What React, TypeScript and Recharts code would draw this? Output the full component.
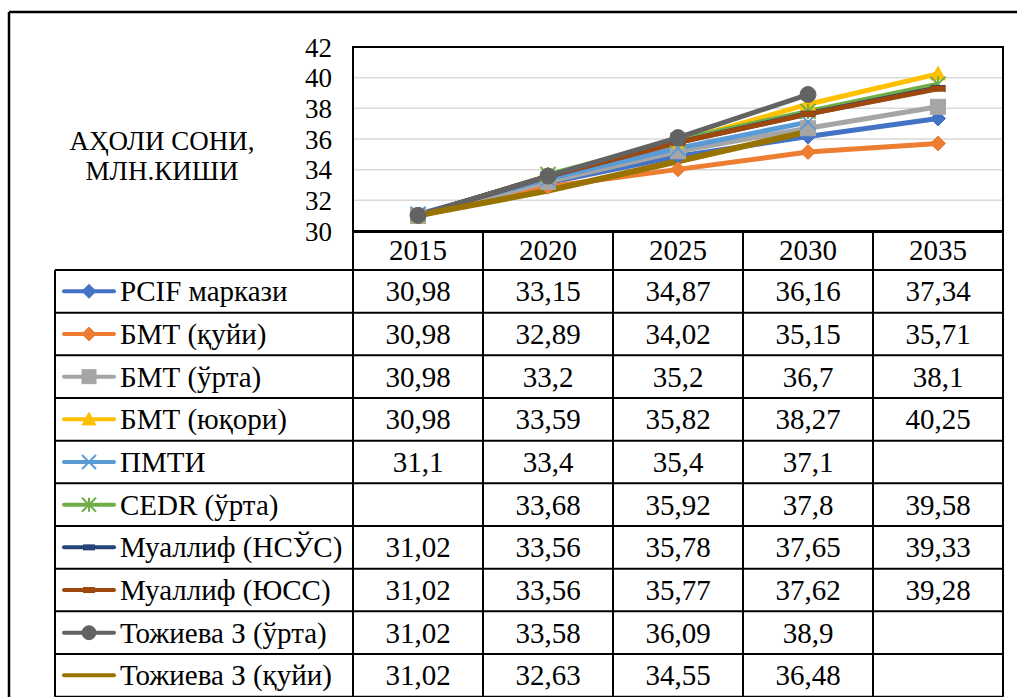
import React from 'react';
import { LineChart, Line, XAxis, YAxis, CartesianGrid } from 'recharts';

const years = ['2015', '2020', '2025', '2030', '2035'];
const seriesNames = [
  'PCIF маркази',
  'БМТ (қуйи)',
  'БМТ (ўрта)',
  'БМТ (юқори)',
  'ПМТИ',
  'CEDR (ўрта)',
  'Муаллиф (НСЎС)',
  'Муаллиф (ЮСС)',
  'Тожиева З (ўрта)',
  'Тожиева З (қуйи)',
];
const pcif = [30.98, 33.15, 34.87, 36.16, 37.34];
const bmtLow = [30.98, 32.89, 34.02, 35.15, 35.71];
const bmtMid = [30.98, 33.2, 35.2, 36.7, 38.1];
const bmtHigh = [30.98, 33.59, 35.82, 38.27, 40.25];
const pmti = [31.1, 33.4, 35.4, 37.1, null];
const cedr = [null, 33.68, 35.92, 37.8, 39.58];
const authorNsus = [31.02, 33.56, 35.78, 37.65, 39.33];
const authorYuss = [31.02, 33.56, 35.77, 37.62, 39.28];
const tozhievaMid = [31.02, 33.58, 36.09, 38.9, null];
const tozhievaLow = [31.02, 32.63, 34.55, 36.48, null];
const seriesValues: (number | null)[][] = [
  pcif, bmtLow, bmtMid, bmtHigh, pmti, cedr, authorNsus, authorYuss, tozhievaMid, tozhievaLow,
];
const colors = ['#4472C4', '#ED7D31', '#A5A5A5', '#FFC000', '#5B9BD5', '#70AD47', '#264478', '#9E480E', '#636363', '#997300'];
const markers = ['diamond', 'diamond', 'square', 'triangle', 'x', 'star', 'dash', 'dash', 'circle', 'none'];
const yTicks = [30, 32, 34, 36, 38, 40, 42];
const yTitle = ['АҲОЛИ СОНИ,', 'МЛН.КИШИ'];

const data = years.map((y, i) => {
  const row: any = { year: y };
  seriesValues.forEach((vals, s) => {
    row['s' + s] = vals[i];
  });
  return row;
});

const FONT = 'Liberation Serif';
const FS = 29;

function Marker({ kind, cx, cy, color, s }: { kind: string; cx: number; cy: number; color: string; s: number }) {
  switch (kind) {
    case 'diamond':
      return <polygon points={`${cx},${cy - s} ${cx + s},${cy} ${cx},${cy + s} ${cx - s},${cy}`} fill={color} stroke={color} strokeWidth={1} />;
    case 'square':
      return <rect x={cx - s} y={cy - s} width={2 * s} height={2 * s} fill={color} stroke={color} strokeWidth={1} />;
    case 'triangle':
      return <polygon points={`${cx},${cy - s} ${cx + s},${cy + s * 0.8} ${cx - s},${cy + s * 0.8}`} fill={color} stroke={color} strokeWidth={1} />;
    case 'x':
      return (
        <g stroke={color} strokeWidth={2}>
          <line x1={cx - s} y1={cy - s} x2={cx + s} y2={cy + s} />
          <line x1={cx - s} y1={cy + s} x2={cx + s} y2={cy - s} />
        </g>
      );
    case 'star':
      return (
        <g stroke={color} strokeWidth={2}>
          <line x1={cx - s} y1={cy - s} x2={cx + s} y2={cy + s} />
          <line x1={cx - s} y1={cy + s} x2={cx + s} y2={cy - s} />
          <line x1={cx} y1={cy - s} x2={cx} y2={cy + s} />
        </g>
      );
    case 'dash':
      return <rect x={cx - s} y={cy - 3} width={2 * s} height={6} fill={color} />;
    case 'circle':
      return <circle cx={cx} cy={cy} r={s} fill={color} stroke={color} strokeWidth={1} />;
    default:
      return null;
  }
}

const fmt = (v: number | null) => (v == null ? '' : String(v).replace('.', ','));

// layout constants
const PLOT_L = 353;
const PLOT_R = 1003;
const PLOT_T = 47;
const PLOT_B = 231;
const TABLE_L = 55;
const HEAD_T = 232;
const ROW0 = 270;
const ROW_H = 42.67;
const COL_W = 130;

export default function App() {
  const nRows = seriesNames.length;
  const tableBottom = ROW0 + nRows * ROW_H;
  return (
    <div style={{ position: 'absolute', left: 0, top: 0, width: 1017, height: 697, background: '#fff', overflow: 'hidden' }}>
      <LineChart
        width={1017}
        height={697}
        data={data}
        margin={{ top: PLOT_T, right: 1017 - PLOT_R, bottom: 697 - PLOT_B, left: 0 }}
      >
        <CartesianGrid vertical={false} stroke="#D9D9D9" strokeWidth={1.5} />
        <XAxis dataKey="year" hide height={0} padding={{ left: COL_W / 2, right: COL_W / 2 }} />
        <YAxis
          width={PLOT_L}
          domain={[30, 42]}
          ticks={yTicks}
          interval={0}
          axisLine={false}
          tickLine={false}
          tickMargin={15}
          tick={{ fill: '#000', fontSize: 27, fontFamily: FONT }}
        />
        {seriesValues.map((_, s) => (
          <Line
            key={s}
            dataKey={'s' + s}
            name={seriesNames[s]}
            stroke={colors[s]}
            strokeWidth={s === 9 ? 6 : 5}
            strokeLinejoin="round"
            isAnimationActive={false}
            connectNulls={false}
            activeDot={false}
            dot={(p: any) => {
              const k = 'd' + s + '-' + p.index;
              if (p.cx == null || p.cy == null || p.payload['s' + s] == null) return <g key={k} />;
              return (
                <g key={k}>
                  <Marker kind={markers[s]} cx={p.cx} cy={p.cy} color={colors[s]} s={markers[s] === 'circle' ? 8 : 7.5} />
                </g>
              );
            }}
          />
        ))}
      </LineChart>
      <svg
        width={1017}
        height={697}
        style={{ position: 'absolute', left: 0, top: 0, pointerEvents: 'none' }}
      >
        {/* outer chart border */}
        <line x1={9} y1={12} x2={1017} y2={12} stroke="#000" strokeWidth={2.5} />
        <line x1={9} y1={12} x2={9} y2={697} stroke="#000" strokeWidth={2.5} />
        {/* plot area border */}
        <rect x={PLOT_L} y={PLOT_T} width={PLOT_R - PLOT_L} height={PLOT_B - PLOT_T} fill="none" stroke="#000" strokeWidth={2} />
        {/* y title */}
        {yTitle.map((t, i) => (
          <text key={t} x={162} y={150 + i * 30} textAnchor="middle" fill="#000" fontFamily={FONT} fontSize={27}>
            {t}
          </text>
        ))}
        {/* header row */}
        <line x1={PLOT_L} y1={HEAD_T} x2={PLOT_R} y2={HEAD_T} stroke="#000" strokeWidth={2} />
        {years.map((y, i) => (
          <text key={y} x={PLOT_L + COL_W * i + COL_W / 2} y={260} textAnchor="middle" fill="#000" fontFamily={FONT} fontSize={FS}>
            {y}
          </text>
        ))}
        {/* horizontal lines */}
        {Array.from({ length: nRows + 1 }).map((_, r) => (
          <line key={'h' + r} x1={TABLE_L} y1={ROW0 + r * ROW_H} x2={PLOT_R} y2={ROW0 + r * ROW_H} stroke="#000" strokeWidth={2} />
        ))}
        {/* vertical lines */}
        <line x1={TABLE_L} y1={ROW0} x2={TABLE_L} y2={tableBottom} stroke="#000" strokeWidth={2} />
        {Array.from({ length: years.length + 1 }).map((_, c) => (
          <line key={'v' + c} x1={PLOT_L + c * COL_W} y1={HEAD_T} x2={PLOT_L + c * COL_W} y2={tableBottom} stroke="#000" strokeWidth={2} />
        ))}
        {/* rows */}
        {seriesNames.map((name, r) => {
          const cy = ROW0 + r * ROW_H + ROW_H / 2;
          return (
            <g key={name}>
              <line x1={64} y1={cy} x2={114} y2={cy} stroke={colors[r]} strokeWidth={4} strokeLinecap="round" />
              <Marker kind={markers[r]} cx={89} cy={cy} color={colors[r]} s={markers[r] === 'dash' ? 6 : 7} />
              <text x={120} y={cy + 10} fill="#000" fontFamily={FONT} fontSize={FS}>
                {name}
              </text>
              {seriesValues[r].map((v, c) => (
                <text key={c} x={PLOT_L + COL_W * c + COL_W / 2} y={cy + 10} textAnchor="middle" fill="#000" fontFamily={FONT} fontSize={FS}>
                  {fmt(v)}
                </text>
              ))}
            </g>
          );
        })}
      </svg>
    </div>
  );
}
